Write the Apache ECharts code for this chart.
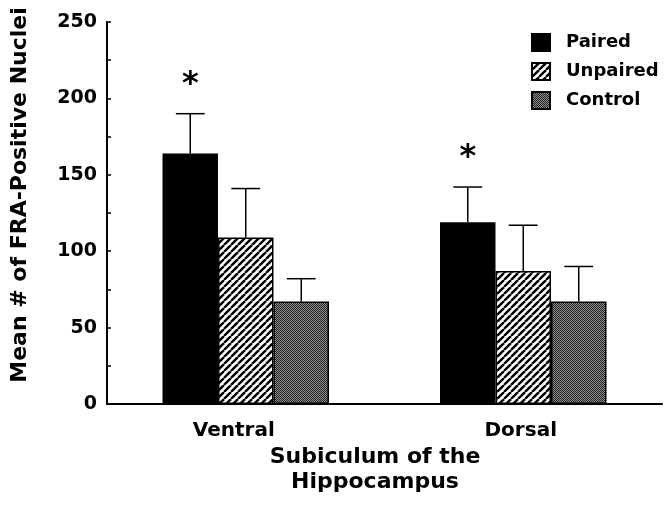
<!DOCTYPE html>
<html>
<head>
<meta charset="utf-8">
<script src="https://cdn.jsdelivr.net/npm/echarts@6/dist/echarts.min.js"></script>
<style>
html,body{margin:0;padding:0;background:#fff;}
#chart{width:665px;height:511px;}
</style>
</head>
<body>
<div id="chart"></div>
<script>
// ---- data ----
const categories = ['Ventral', 'Dorsal'];
const seriesNames = ['Paired', 'Unpaired', 'Control'];
const pairedMean = [164, 119];
const pairedSem = [26, 23];
const unpairedMean = [109, 87];
const unpairedSem = [32, 30];
const controlMean = [67, 67];
const controlSem = [15, 23];
const pairedSignificant = [true, true];
const yMin = 0, yMax = 250, yStep = 50;
const yTitle = 'Mean # of FRA-Positive Nuclei';
const xTitle = 'Subiculum of the\nHippocampus';

// ---- patterns ----
function hatchPattern() {
  const s = 7;
  const c = document.createElement('canvas');
  c.width = s; c.height = s;
  const ctx = c.getContext('2d');
  ctx.fillStyle = '#fff';
  ctx.fillRect(0, 0, s, s);
  ctx.strokeStyle = '#000';
  ctx.lineWidth = 2.4;
  [-s, 0, s].forEach(function (k) {
    ctx.beginPath();
    ctx.moveTo(k, s);
    ctx.lineTo(k + s, 0);
    ctx.stroke();
  });
  return c;
}
function dotPattern() {
  const c = document.createElement('canvas');
  c.width = 2; c.height = 2;
  const ctx = c.getContext('2d');
  ctx.fillStyle = '#8e8e8e';
  ctx.fillRect(0, 0, 2, 2);
  ctx.fillStyle = '#222';
  ctx.fillRect(0, 0, 1, 1);
  ctx.fillRect(1, 1, 1, 1);
  return c;
}
const fills = [
  '#000',
  { image: hatchPattern(), repeat: 'repeat' },
  { image: dotPattern(), repeat: 'repeat' }
];
const means = [pairedMean, unpairedMean, controlMean];
const sems = [pairedSem, unpairedSem, controlSem];

const FONT = 'DejaVu Sans';

const barSeries = seriesNames.map(function (name, i) {
  return {
    name: name,
    type: 'bar',
    data: means[i],
    barGap: '0%',
    barCategoryGap: '40%',
    itemStyle: { color: fills[i], borderColor: '#000', borderWidth: 1.5 },
    z: 2
  };
});

const errData = [];
seriesNames.forEach(function (name, s) {
  categories.forEach(function (c, ci) {
    errData.push([ci, s, means[s][ci], sems[s][ci], (s === 0 && pairedSignificant[ci]) ? 1 : 0]);
  });
});

const errSeries = {
  type: 'custom',
  name: 'err',
  data: errData,
  z: 5,
  encode: { x: 0, y: 2 },
  renderItem: function (params, api) {
    const ci = api.value(0), s = api.value(1), m = api.value(2), e = api.value(3), sig = api.value(4);
    const band = api.size([1, 0])[0];
    const bw = band * 0.2;
    const base = api.coord([ci, m]);
    const top = api.coord([ci, m + e]);
    const x = base[0] + (s - 1) * bw;
    const half = bw * 0.26;
    const children = [
      { type: 'line', shape: { x1: x, y1: base[1], x2: x, y2: top[1] }, style: { stroke: '#000', lineWidth: 1.5 } },
      { type: 'line', shape: { x1: x - half, y1: top[1], x2: x + half, y2: top[1] }, style: { stroke: '#000', lineWidth: 1.5 } }
    ];
    if (sig) {
      children.push({ type: 'text', x: x, y: top[1] - 29,
        style: { text: '*', fill: '#000', font: 'bold 32px "DejaVu Sans"', align: 'center', verticalAlign: 'middle' } });
    }
    return { type: 'group', children: children };
  }
};

const chart = echarts.init(document.getElementById('chart'), null, { renderer: 'canvas' });
chart.setOption({
  animation: false,
  backgroundColor: '#fff',
  grid: { left: 107, right: 3, top: 22, bottom: 107, containLabel: false },
  legend: {
    data: seriesNames,
    orient: 'vertical',
    left: 526, top: 28,
    itemWidth: 18, itemHeight: 17, itemGap: 10,
    icon: 'rect',
    textStyle: { fontFamily: FONT, fontWeight: 'bold', fontSize: 18, color: '#000', padding: [0, 0, 0, 11] }
  },
  xAxis: {
    type: 'category',
    data: categories,
    axisLine: { lineStyle: { color: '#000', width: 2 } },
    axisTick: { show: false },
    axisLabel: {
      margin: 17,
      formatter: function (v) { return v === categories[0] ? '{a|' + v + '}' : '{b|' + v + '}'; },
      rich: {
        a: { fontFamily: FONT, fontWeight: 'bold', fontSize: 20, color: '#000', padding: [0, 24, 0, 0] },
        b: { fontFamily: FONT, fontWeight: 'bold', fontSize: 20, color: '#000', padding: [0, 5, 0, 0] }
      }
    }
  },
  yAxis: {
    type: 'value',
    min: yMin, max: yMax, interval: yStep,
    axisLine: { show: true, lineStyle: { color: '#000', width: 2 } },
    axisTick: { show: true, inside: true, length: 4, lineStyle: { color: '#000', width: 1.5 } },
    minorTick: { show: true, splitNumber: 2, length: 4, lineStyle: { color: '#000', width: 1.5 } },
    splitLine: { show: false },
    axisLabel: { margin: 10, fontFamily: FONT, fontWeight: 'bold', fontSize: 19, color: '#000' }
  },
  graphic: [
    { type: 'text', x: 20, y: 195, rotation: Math.PI / 2,
      style: { text: yTitle, font: 'bold 22px "DejaVu Sans"', fill: '#000', align: 'center', verticalAlign: 'middle' } },
    { type: 'text', x: 375, y: 445,
      style: { text: xTitle, font: 'bold 22px "DejaVu Sans"', fill: '#000', align: 'center', verticalAlign: 'top', lineHeight: 25 } }
  ],
  series: barSeries.concat([errSeries])
});
</script>
</body>
</html>
